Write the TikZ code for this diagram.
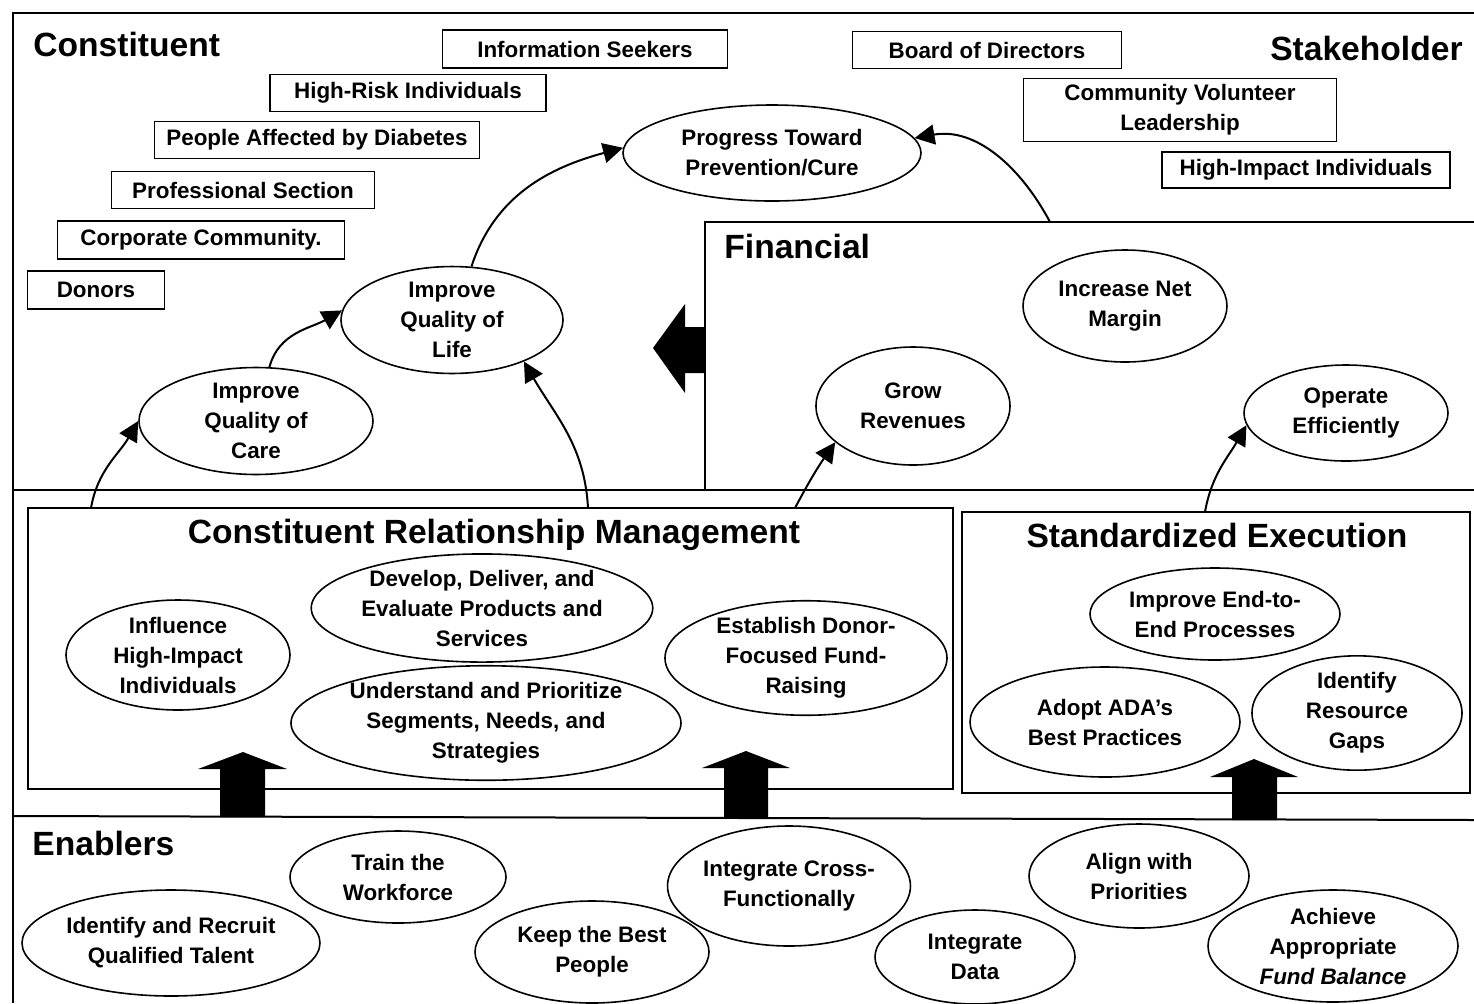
\documentclass[tikz,border=0pt]{standalone}
\usepackage{fontspec}
\setmainfont{Liberation Sans}
\usetikzlibrary{shapes.geometric,arrows.meta}
\newcommand\mybody{\fontsize{11.2}{15}\selectfont\bfseries}
\newcommand\myhead{\fontsize{16.8}{20}\selectfont\bfseries}
\tikzset{
  frame/.style={line width=1pt},
  box/.style={draw, line width=0.9pt, rectangle, inner sep=0pt, font=\mybody, align=center},
  bx/.style 2 args={minimum width=#1*0.5pt, minimum height=#2*0.5pt},
  oval/.style={draw, ellipse, line width=0.8pt, inner sep=0pt, font=\mybody, align=center},
  sz/.style 2 args={minimum width=#1*1pt, minimum height=#2*1pt},
  arr/.style={line width=1pt, -{Triangle[length=10pt,width=10pt]}},
  heading/.style={font=\myhead, inner sep=0pt},
  blockarrow/.style={fill=black, draw=none},
}
\begin{document}
\begin{tikzpicture}[x=0.5pt,y=-0.5pt]
\fill[white] (0,0) rectangle (1474,1003);
\useasboundingbox (0,0) rectangle (1474,1003);

% frames
\draw[frame] (13,1003) -- (13,13) -- (1474,13);
\draw[frame] (13,490) -- (1474,490);
\draw[frame] (705,490) -- (705,222) -- (1474,222);
\draw[frame] (13,816) -- (1474,820);
\draw[frame] (28,508) rectangle (953,789);
\draw[frame] (962,512) rectangle (1470,793);

% headings
\node[heading, anchor=base west] (hcon) at (33,56) {Constituent};
\node[heading, anchor=base east] (hsta) at (1463,60) {Stakeholder};
\node[heading, anchor=base west] (hfin) at (724,258) {Financial};
\node[heading, anchor=base] (hcrm) at (494,543) {Constituent Relationship Management};
\node[heading, anchor=base] (hstd) at (1217,547) {Standardized Execution};
\node[heading, anchor=base west] (hena) at (32,855) {Enablers};

% constituent boxes
\node[box, bx={285}{38}] (info) at (585,49) {Information Seekers};
\node[box, bx={276}{37}] (risk) at (408,93) {High-Risk Individuals};
\node[box, bx={325}{37}] (people) at (317,140) {People Affected by Diabetes};
\node[box, bx={263}{37}] (prof) at (243,190) {Professional Section};
\node[box, bx={287}{38}] (corp) at (201,240) {Corporate Community.};
\node[box, bx={137}{38}] (donors) at (96,290) {Donors};
% stakeholder boxes
\node[box, bx={269}{37}] (board) at (987,50) {Board of Directors};
\node[box, bx={313}{63}] (cvl) at (1180,110) {Community Volunteer\\Leadership};
\node[box, bx={288}{36}] (hii) at (1306,170) {High-Impact Individuals};

% constituent ovals
\node[oval, sz={149}{48}] (progress) at (772,153) {Progress Toward\\Prevention/Cure};
\node[oval, sz={111}{50}] (life) at (452,320) {Improve\\Quality of\\Life};
\node[oval, sz={117}{47}] (care) at (256,421) {Improve\\Quality of\\Care};

% financial ovals
\node[oval, sz={102}{56}] (margin) at (1125,306) {Increase Net\\Margin};
\node[oval, sz={97}{59}] (grow) at (913,406) {Grow\\Revenues};
\node[oval, sz={102}{48}] (operate) at (1346,413) {Operate\\Efficiently};

% CRM ovals
\node[oval, sz={112}{55}] (influence) at (178,655) {Influence\\High-Impact\\Individuals};
\node[oval, sz={170}{54}] (develop) at (482,608) {Develop, Deliver, and\\Evaluate Products and\\Services};
\node[oval, sz={195}{55}] (understand) at (486,723) {Understand and Prioritize\\Segments, Needs, and\\Strategies};
\node[oval, sz={141}{57}] (donor) at (806,658) {Establish Donor-\\Focused Fund-\\Raising};

% standardized execution ovals
\node[oval, sz={125}{46}] (endtoend) at (1215,614) {Improve End-to-\\End Processes};
\node[oval, sz={135}{55}] (adopt) at (1105,722) {Adopt ADA’s\\Best Practices};
\node[oval, sz={105}{57}] (gaps) at (1357,713) {Identify\\Resource\\Gaps};

% enablers ovals
\node[oval, sz={149}{53}] (recruit) at (171,943) {Identify and Recruit\\Qualified Talent};
\node[oval, sz={108}{46}] (train) at (398,877) {Train the\\Workforce};
\node[oval, sz={117}{51}] (keep) at (592,952) {Keep the Best\\People};
\node[oval, sz={117}{60}] (cross) at (789,886) {Integrate Cross-\\Functionally};
\node[oval, sz={100}{47}] (data) at (975,957) {Integrate\\Data};
\node[oval, sz={110}{52}] (align) at (1139,876) {Align with\\Priorities};
\node[oval, sz={125}{56}] (fund) at (1333,946) {Achieve\\Appropriate\\\textit{Fund Balance}};

% arrow start points
\coordinate (s1) at (91,508);
\coordinate (s4) at (588,508);
\coordinate (s5) at (1050,222);
\coordinate (s6) at (795,508);
\coordinate (s7) at (1205,512);

% connectors
\draw[arr] (s1) to[out=80,in=240] (care.west);
\draw[arr] (care.76) to[out=75,in=210] (life.175);
\draw[arr] (life.70) to[out=72,in=195] (progress.178);
\draw[arr] (s4) to[out=93,in=300] (life.-30);
\draw[arr] (s5) to[out=118,in=10] (progress.6);
\draw[arr] (s6) to[out=62,in=235] (grow.205);
\draw[arr] (s7) to[out=80,in=240] (operate.187);

% block arrows
\fill[blockarrow] (220,817) -- (220,769) -- (198,769) -- (243,752) -- (287,769) -- (265,769) -- (265,817) -- cycle;
\fill[blockarrow] (724,818) -- (724,768) -- (702,768) -- (746,751) -- (790,768) -- (768,768) -- (768,818) -- cycle;
\fill[blockarrow] (1232,820) -- (1232,777) -- (1210,777) -- (1254,759) -- (1298,777) -- (1277,777) -- (1277,820) -- cycle;
\fill[blockarrow] (705,327) -- (685,327) -- (685,304) -- (653,348) -- (685,393) -- (685,373) -- (705,373) -- cycle;
\end{tikzpicture}
\end{document}
